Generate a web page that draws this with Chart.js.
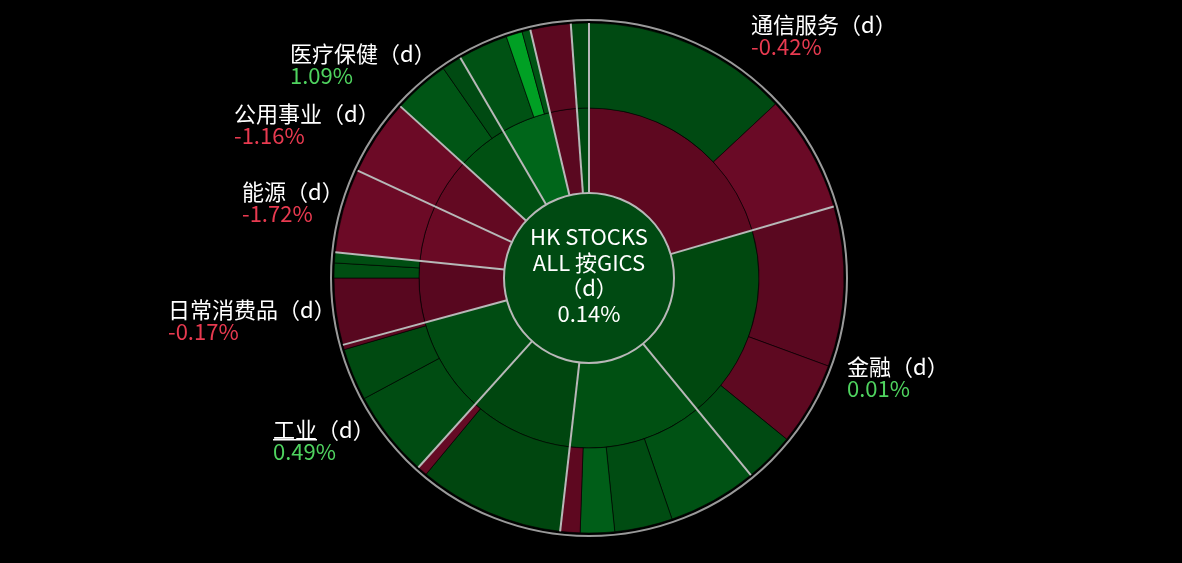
<!DOCTYPE html>
<html>
<head>
<meta charset="utf-8">
<script src="https://cdn.jsdelivr.net/npm/chart.js@4"></script>
<style>
  html, body { margin: 0; padding: 0; background: #000; }
  #wrap { width: 1182px; height: 563px; position: relative; }
</style>
</head>
<body>
<div id="wrap"><canvas id="sunburst"></canvas></div>
<script>
// sectors (inner ring), clockwise from 12 o'clock
const sectorNames = ["通信服务", "金融", "", "", "工业", "日常消费品", "能源", "公用事业", "医疗保健", "", "", ""];
const sectorWeights = [73.7, 66.9, 45.9, 35.5, 32.8, 21.0, 19.1, 17.4, 17.4, 17.0, 9.2, 4.1];
const sectorChange = [-0.42, 0.01, null, null, 0.49, -0.17, -1.72, -1.16, 1.09, null, null, null];
const sectorColors = ["#5e0820", "#00480f", "#005012", "#00460f", "#004c12", "#58071f",
  "#6a0a25", "#630922", "#005012", "#00661a", "#5a0820", "#004a12"];

// sub-industries (outer ring), same order
const subWeights = [47.0, 26.7, 36.5, 19.0, 11.4, 20.4, 13.2, 7.8, 4.5, 33.2, 2.3, 19.8, 11.9, 1.1,
  15.2, 3.4, 2.4, 19.1, 17.4, 12.9, 4.5, 11.4, 3.7, 1.9, 9.2, 4.1];
const subColors = ["#004a12", "#6a0a26", "#5a0820", "#5e0921", "#004a12", "#005214", "#004c12", "#005e18",
  "#5e0820", "#00460f", "#650a24", "#004c12", "#004a11", "#5c0820", "#58071f", "#004e12", "#004e12",
  "#6c0a26", "#6c0a26", "#005515", "#004a12", "#005214", "#00a024", "#005414", "#5c0820", "#00460f"];

const totalTitle = ["HK STOCKS", "ALL 按GICS", "（d）"];
const totalChange = 0.14;

// where the sector captions sit: [left x, name baseline]
const labelPos = [[751, 33], [847, 375], null, null, [273, 438], [168, 318], [242, 200], [234, 122], [290, 62], null, null, null];

const FONT = '"Noto Sans CJK SC", "Noto Sans", sans-serif';
const UP = "#4fd35f";
const DOWN = "#e83a50";

function fmt(v) {
  return v.toFixed(2) + "%";
}

const overlay = {
  id: "overlay",
  afterDatasetsDraw(chart) {
    const ctx = chart.ctx;
    const outer = chart.getDatasetMeta(0).data;
    const inner = chart.getDatasetMeta(1).data;
    const core = chart.getDatasetMeta(2).data[0];
    const cx = core.x, cy = core.y;
    const r0 = core.outerRadius;
    const r2 = outer[0].outerRadius;
    ctx.save();
    ctx.strokeStyle = "#b8b8b8";
    ctx.lineWidth = 2;
    inner.forEach((a) => {
      const c = Math.cos(a.startAngle), s = Math.sin(a.startAngle);
      ctx.beginPath();
      ctx.moveTo(cx + r0 * c, cy + r0 * s);
      ctx.lineTo(cx + r2 * c, cy + r2 * s);
      ctx.stroke();
    });
    ctx.beginPath();
    ctx.arc(cx, cy, r0, 0, Math.PI * 2);
    ctx.stroke();
    ctx.strokeStyle = "#9a9a9a";
    ctx.beginPath();
    ctx.arc(cx, cy, r2 + 3, 0, Math.PI * 2);
    ctx.stroke();

    // centre text
    ctx.fillStyle = "#ffffff";
    ctx.textAlign = "center";
    ctx.textBaseline = "alphabetic";
    ctx.font = "22px " + FONT;
    const lines = totalTitle.concat([fmt(totalChange)]);
    lines.forEach((t, i) => {
      ctx.fillText(t, cx, cy - 33 + i * 25.5);
    });

    // sector captions
    ctx.textAlign = "left";
    sectorNames.forEach((name, i) => {
      const p = labelPos[i];
      if (!name || !p) return;
      ctx.fillStyle = "#ffffff";
      ctx.fillText(name + "（d）", p[0], p[1]);
      if (name === "工业") {
        const w = ctx.measureText(name).width;
        ctx.fillRect(p[0], p[1] + 1, w, 1.5);
      }
      const v = sectorChange[i];
      ctx.fillStyle = v >= 0 ? UP : DOWN;
      ctx.fillText(fmt(v), p[0], p[1] + 22);
    });
    ctx.restore();
  },
};

new Chart(document.getElementById("sunburst"), {
  type: "pie",
  data: {
    datasets: [
      {
        data: subWeights,
        backgroundColor: subColors,
        borderColor: "rgba(0,0,0,0.6)",
        borderWidth: 1,
        weight: 1,
      },
      {
        data: sectorWeights,
        backgroundColor: sectorColors,
        borderColor: "rgba(0,0,0,0.6)",
        borderWidth: 1,
        weight: 1,
      },
      {
        data: [1],
        backgroundColor: ["#004a12"],
        borderWidth: 0,
        weight: 1,
      },
    ],
  },
  options: {
    responsive: true,
    maintainAspectRatio: false,
    animation: false,
    layout: { padding: { top: 22.5, bottom: 29.5, left: 0, right: 4 } },
    plugins: {
      legend: { display: false },
      tooltip: { enabled: false },
    },
  },
  plugins: [overlay],
});
</script>
</body>
</html>
